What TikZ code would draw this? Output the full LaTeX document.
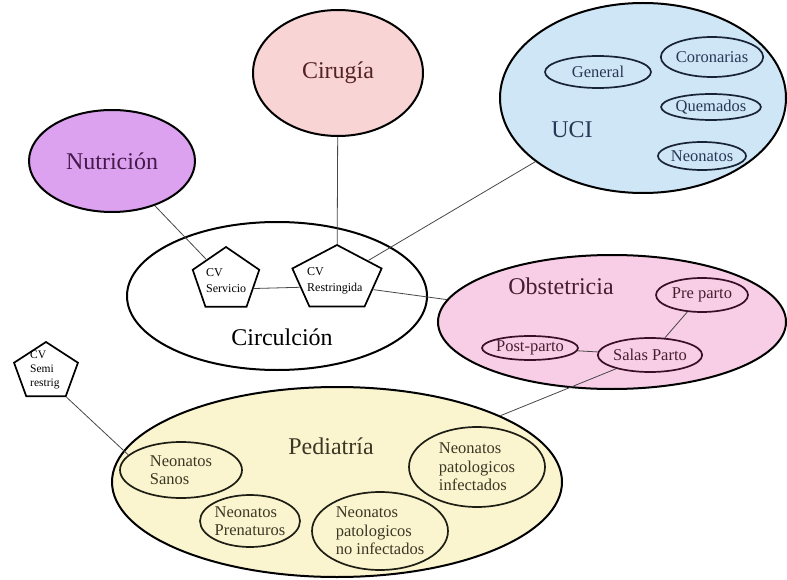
\documentclass[tikz,border=0pt]{standalone}
\usepackage{fontspec}
\setmainfont{Liberation Serif}
\usetikzlibrary{shapes.geometric}

\definecolor{nutfill}{RGB}{220,162,240}
\definecolor{cirfill}{RGB}{248,212,212}
\definecolor{ucifill}{RGB}{207,230,246}
\definecolor{obsfill}{RGB}{248,206,230}
\definecolor{pedfill}{RGB}{250,245,207}
\definecolor{nuttext}{RGB}{70,25,75}
\definecolor{cirtext}{RGB}{85,35,35}
\definecolor{ucitext}{RGB}{40,55,85}
\definecolor{ucistroke}{RGB}{25,35,55}
\definecolor{obstext}{RGB}{70,30,50}
\definecolor{obsstroke}{RGB}{55,15,38}
\definecolor{pedtext}{RGB}{60,55,35}
\definecolor{pedstroke}{RGB}{30,30,20}

\tikzset{
  area/.style={ellipse, draw=black, line width=2pt, inner sep=0pt},
  unit/.style={ellipse, line width=1.7pt, inner sep=0pt},
  head/.style={font=\rmfamily\fontsize{24}{28}\selectfont},
  small/.style={font=\rmfamily\fontsize{16.5}{18.5}\selectfont},
  cvbox/.style={regular polygon, regular polygon sides=5, draw=black,
    line width=1.7pt, fill=white, inner sep=0pt, transform shape},
  cvtext/.style={font=\rmfamily\fontsize{12}{16}\selectfont, align=left, inner sep=0pt},
  link/.style={draw=black!72, line width=0.8pt}
}

\begin{document}
\begin{tikzpicture}[x=1pt, y=-1pt]
  \useasboundingbox (0,0) rectangle (787,580);

  % departments
  \node[area, fill=nutfill, minimum width=166pt, minimum height=102pt,
        head, text=nuttext] (nut) at (112,161) {Nutrición};
  \node[area, fill=cirfill, minimum width=170pt, minimum height=126pt,
        head, text=cirtext] (cir) at (338,73) {Cirugía};
  \node[area, fill=ucifill, minimum width=286pt, minimum height=190pt] (uci) at (643,98) {};
  \node[area, fill=white, minimum width=300pt, minimum height=148pt] (circ) at (277,296) {};
  \node[area, fill=obsfill, minimum width=348pt, minimum height=134pt] (obs) at (612,322) {};
  \node[area, fill=pedfill, minimum width=450pt, minimum height=190pt] (ped) at (337,482) {};

  % department titles
  \node[head, text=ucitext] (ucit) at (572,130) {UCI};
  \node[head] (circt) at (282,337) {Circulción};
  \node[head, text=obstext] (obst) at (561,286) {Obstetricia};
  \node[head, text=pedtext] (pedt) at (331,446) {Pediatría};

  % UCI units
  \node[unit, draw=ucistroke, small, text=ucitext, minimum width=106pt, minimum height=32pt] (gen) at (598,72) {General};
  \node[unit, draw=ucistroke, small, text=ucitext, minimum width=92pt, minimum height=40pt] (cor) at (712,57) {Coronarias};
  \node[unit, draw=ucistroke, small, text=ucitext, minimum width=96pt, minimum height=26pt] (que) at (711,107) {Quemados};
  \node[unit, draw=ucistroke, small, text=ucitext, minimum width=84pt, minimum height=28pt] (neo) at (702,156) {Neonatos};

  % Obstetricia units
  \node[unit, draw=obsstroke, small, text=obstext, minimum width=92pt, minimum height=34pt] (pre) at (702,295) {Pre parto};
  \node[unit, draw=obsstroke, small, text=obstext, minimum width=94pt, minimum height=24pt] (post) at (530,348) {Post-parto};
  \node[unit, draw=obsstroke, small, text=obstext, minimum width=96pt, minimum height=34pt] (salas) at (650,355) {Salas Parto};

  % Pediatria units
  \node[unit, draw=pedstroke, small, text=pedtext, align=left, minimum width=122pt, minimum height=56pt] (sanos) at (181,470) {Neonatos\\Sanos};
  \node[unit, draw=pedstroke, small, text=pedtext, align=left, minimum width=100pt, minimum height=52pt] (pren) at (250,521) {Neonatos\\Prenaturos};
  \node[unit, draw=pedstroke, small, text=pedtext, align=left, minimum width=136pt, minimum height=78pt] (noinf) at (380,531) {Neonatos\\patologicos\\no infectados};
  \node[unit, draw=pedstroke, small, text=pedtext, align=left, minimum width=136pt, minimum height=80pt] (inf) at (477,467) {Neonatos\\patologicos\\infectados};

  % check points (CV)
  \begin{scope}[shift={(226,280)}, xscale=1.06]
    \node[cvbox, minimum size=66pt] (serv) at (0,0) {};
  \end{scope}
  \begin{scope}[shift={(337,279)}, xscale=1.38]
    \node[cvbox, minimum size=68pt] (rest) at (0,0) {};
  \end{scope}
  \begin{scope}[shift={(46,372)}, xscale=1.12]
    \node[cvbox, minimum size=60pt] (semi) at (0,0) {};
  \end{scope}

  % connectors
  \path[link] (nut) -- (serv);
  \path[link] (cir) -- (rest);
  \path[link] (uci) -- (rest);
  \path[link] (serv.-18) -- (rest.197);
  \path[link] (rest.-22) -- (obs);
  \path[link] (post) -- (salas);
  \path[link] (salas) -- (pre);
  \path[link] (salas) -- (ped);
  \path[link] (semi.corner 4) -- (sanos.164);

  % check point labels
  \node[cvtext, anchor=west] (servt) at (206,281) {CV\\Servicio};
  \node[cvtext, anchor=west] (restt) at (307,281) {CV\\Restringida};
  \node[cvtext, anchor=west, font=\rmfamily\fontsize{11.5}{14}\selectfont] (semit) at (30,370) {CV\\Semi\\restrig};
\end{tikzpicture}
\end{document}
